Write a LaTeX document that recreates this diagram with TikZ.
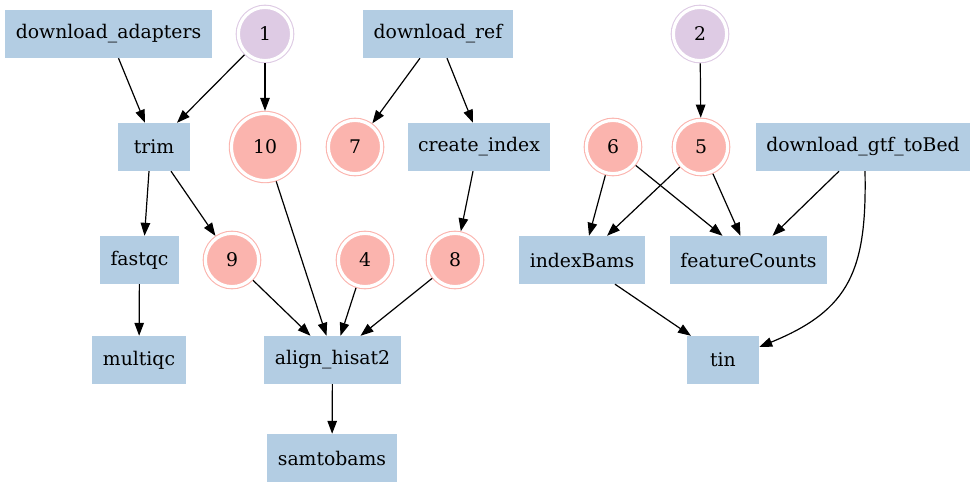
\documentclass[tikz,border=0pt]{standalone}
\usepackage{fontspec}
\setmainfont{DejaVu Serif}
\usetikzlibrary{arrows.meta}
\definecolor{boxblue}{HTML}{B3CDE3}
\definecolor{rulepink}{HTML}{FBB4AE}
\definecolor{inputpurple}{HTML}{DECBE4}
\begin{document}
\begin{tikzpicture}[x=1pt,y=-1pt,font=\fontsize{18.8}{22}\selectfont,line join=round,
		rule/.style={rectangle,fill=boxblue,minimum height=48pt,minimum width=72pt,inner xsep=10.5pt,inner ysep=0pt},
		ring/.style={circle,draw=#1,fill=#1,line width=1.1pt,double=white,double distance=3.2pt,minimum size=53.3pt,inner sep=0pt,outer sep=2.65pt},
		edge/.style={line width=1.2pt,-{Triangle[length=13pt,width=9.5pt]}}]
	\useasboundingbox (0,0) rectangle (976,487);
	% rules
	\node[rule] (da) at (108.5,34) {download\_adapters};
	\node[rule] (dr) at (438,34) {download\_ref};
	\node[rule] (trim) at (154,147) {trim};
	\node[rule] (ci) at (479,147) {create\_index};
	\node[rule] (gtf) at (863,147) {download\_gtf\_toBed};
	\node[rule] (fq) at (139.5,260) {fastqc};
	\node[rule] (ib) at (582,260) {indexBams};
	\node[rule] (fc) at (748.5,260) {featureCounts};
	\node[rule] (mq) at (139,360) {multiqc};
	\node[rule] (al) at (332.5,360) {align\_hisat2};
	\node[rule] (tin) at (723,360) {tin};
	\node[rule] (sb) at (332,458) {samtobams};
	% jobs
	\foreach \n/\x/\y in {1/265/34,2/700/34}
		\node[ring=inputpurple] (n\n) at (\x,\y) {\n};
	\foreach \n/\x/\y in {7/355/147,6/613/147,5/701/147,9/232/260,4/365/260,8/455/260}
		\node[ring=rulepink] (n\n) at (\x,\y) {\n};
	\node[ring=rulepink,minimum size=67pt] (n10) at (265,147) {10};
	% edges
	\draw[edge] ([xshift=10pt]da.south) -- ([xshift=-9pt]trim.north);
	\draw[edge] (n1) -- ([xshift=23pt]trim.north);
	\draw[edge] (n1) -- (n10);
	\draw[edge] ([xshift=-18pt]dr.south) -- (n7);
	\draw[edge] ([xshift=9pt]dr.south) -- ([xshift=-6pt]ci.north);
	\draw[edge] (n2) -- (n5);
	\draw[edge] ([xshift=-5pt]trim.south) -- ([xshift=5pt]fq.north);
	\draw[edge] ([xshift=17pt]trim.south) -- (n9);
	\draw[edge] (n10) -- ([xshift=-6pt]al.north);
	\draw[edge] ([xshift=-6pt]ci.south) -- (n8);
	\draw[edge] (n6) -- ([xshift=7pt]ib.north);
	\draw[edge] (n6) -- ([xshift=-26pt]fc.north);
	\draw[edge] (n5) -- ([xshift=25pt]ib.north);
	\draw[edge] (n5) -- ([xshift=-8pt]fc.north);
	\draw[edge] ([xshift=-24pt]gtf.south) -- ([xshift=24pt]fc.north);
	\draw[edge] ([xshift=2pt]gtf.south) .. controls (867,270) and (850,310) .. ([yshift=13pt]tin.east);
	\draw[edge] (fq) -- (mq);
	\draw[edge] (n9) -- ([xshift=-22pt]al.north);
	\draw[edge] (n4) -- ([xshift=8pt]al.north);
	\draw[edge] (n8) -- ([xshift=28pt]al.north);
	\draw[edge] ([xshift=33pt]ib.south) -- ([xshift=-32pt]tin.north);
	\draw[edge] (al) -- (sb);
\end{tikzpicture}
\end{document}
